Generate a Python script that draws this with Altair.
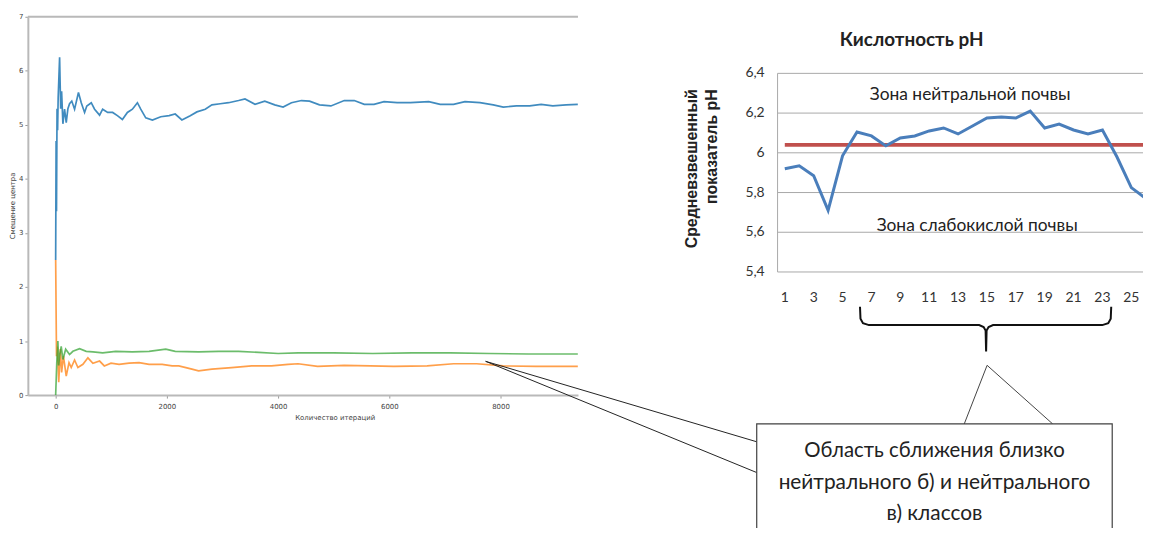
import altair as alt
import pandas as pd

# ---------------- data: left chart (centre displacement vs iterations) ----------------
blue_it = [0, 8, 15, 25, 35, 45, 71, 90, 107, 130, 160, 190, 220, 250, 290, 340, 410, 460, 520,
           560, 640, 700, 790, 845, 935, 1025, 1110, 1200, 1290, 1380, 1470, 1530, 1620, 1740,
           1890, 2040, 2150, 2270, 2420, 2540, 2690, 2810, 2960, 3110, 3290, 3405, 3585, 3760,
           3940, 4090, 4240, 4420, 4565, 4745, 4950, 5190, 5370, 5550, 5725, 5905, 6140, 6380,
           6710, 6915, 7155, 7360, 7630, 7870, 8050, 8285, 8525, 8730, 8940, 9180, 9390]
blue_val = [2.5, 4.7, 3.4, 5.3, 4.9, 5.5, 6.25, 5.3, 5.62, 5.02, 5.29, 5.04, 5.3, 5.39, 5.44,
            5.29, 5.6, 5.41, 5.23, 5.35, 5.41, 5.29, 5.18, 5.29, 5.23, 5.23, 5.17, 5.10, 5.23,
            5.29, 5.41, 5.29, 5.13, 5.09, 5.15, 5.17, 5.20, 5.09, 5.17, 5.24, 5.29, 5.37, 5.39,
            5.41, 5.45, 5.48, 5.38, 5.44, 5.37, 5.33, 5.41, 5.45, 5.44, 5.37, 5.35, 5.45, 5.45,
            5.38, 5.38, 5.43, 5.41, 5.41, 5.43, 5.38, 5.38, 5.43, 5.41, 5.37, 5.33, 5.35, 5.35,
            5.38, 5.35, 5.37, 5.38]

orange_it = [0, 15, 30, 55, 85, 107, 140, 190, 240, 280, 340, 400, 490, 580, 670, 790, 875,
             995, 1140, 1320, 1500, 1680, 1915, 2095, 2215, 2450, 2570, 2810, 3165, 3525, 3880,
             4180, 4360, 4710, 5190, 5660, 6080, 6680, 7155, 7570, 8050, 8640, 9390]
orange_val = [2.5, 0.72, 0.9, 0.24, 0.85, 0.42, 0.72, 0.35, 0.6, 0.51, 0.65, 0.51, 0.57, 0.69,
              0.59, 0.63, 0.54, 0.59, 0.57, 0.59, 0.6, 0.57, 0.57, 0.54, 0.54, 0.48, 0.45, 0.48,
              0.51, 0.54, 0.54, 0.57, 0.58, 0.53, 0.55, 0.54, 0.53, 0.54, 0.58, 0.58, 0.54, 0.53,
              0.53]

green_it = [0, 20, 40, 55, 70, 100, 130, 180, 250, 310, 430, 550, 670, 845, 1080, 1380, 1680,
            1980, 2150, 2570, 2930, 3290, 3650, 4000, 4360, 5000, 5700, 6400, 7100, 7800, 8500,
            9390]
green_val = [0, 0.6, 1.0, 0.55, 0.72, 0.9, 0.66, 0.85, 0.75, 0.81, 0.86, 0.81, 0.80, 0.78, 0.81,
             0.80, 0.81, 0.85, 0.81, 0.80, 0.81, 0.81, 0.79, 0.77, 0.78, 0.78, 0.77, 0.78, 0.78,
             0.77, 0.76, 0.76]

left_xticks = [0, 2000, 4000, 6000, 8000]
left_yticks = [0, 1, 2, 3, 4, 5, 6, 7]
left_xlabel = "Количество итераций"
left_ylabel = "Смещение центра"

# ---------------- data: right chart (pH) ----------------
ph_sample = list(range(1, 27))
ph_value = [5.92, 5.935, 5.885, 5.71, 5.985, 6.105, 6.085, 6.035, 6.075, 6.085, 6.11, 6.125,
            6.095, 6.135, 6.175, 6.18, 6.175, 6.21, 6.125, 6.145, 6.115, 6.095, 6.115, 5.98,
            5.825, 5.77]
ph_mean = 6.04
ph_yticks = [5.4, 5.6, 5.8, 6.0, 6.2, 6.4]
ph_xticks = list(range(1, 26, 2))
ph_title = "Кислотность pH"
ph_ylabel = ["Средневзвешенный", "показатель pH"]
zone_top = "Зона нейтральной почвы"
zone_bottom = "Зона слабокислой почвы"
box_lines = ["Область сближения близко", "нейтрального б)  и нейтрального", "в) классов"]

# ---------------- layout ----------------
W, H = 1143, 520
OFF = 8  # page margin: window coords -> chart coords

blue_df = pd.DataFrame({"it": blue_it, "val": blue_val})
orange_df = pd.DataFrame({"it": orange_it, "val": orange_val})
green_df = pd.DataFrame({"it": green_it, "val": green_val})

lx = alt.Scale(domain=[-500, 9393], range=[28 - OFF, 582 - OFF], nice=False, zero=False)
ly = alt.Scale(domain=[0, 7], range=[396 - OFF, 15 - OFF], nice=False, zero=False)

gray_axis = dict(domainColor="#b9b9b9", domainWidth=2, tickColor="#9a9a9a", tickSize=3,
                 tickWidth=1, labelFont="DejaVu Sans", labelFontSize=7, labelColor="#444",
                 titleFont="DejaVu Sans", titleFontSize=7, titleFontWeight="normal",
                 titleColor="#444", grid=False, labelOverlap=False, labelFlush=False)

x_left = alt.X("it:Q", scale=lx,
               axis=alt.Axis(orient="bottom", offset=(396 - OFF) - H, values=left_xticks,
                             format="d", labelPadding=4, title=left_xlabel,
                             titleX=337 - OFF, titleY=23, titleAlign="center",
                             titleBaseline="middle", **gray_axis))
y_left = alt.Y("val:Q", scale=ly,
               axis=alt.Axis(orient="left", offset=-(28 - OFF), values=left_yticks,
                             labelPadding=2, title=left_ylabel, titleAngle=270,
                             titleX=12.5 - 28, titleY=205 - OFF, titleAlign="center",
                             titleBaseline="middle", **gray_axis))

def left_line(df, color, opacity):
    return alt.Chart(df).mark_line(color=color, strokeWidth=1.7, opacity=opacity).encode(
        x=x_left, y=y_left)

dummy = alt.Data(values=[{"k": 0}])

def seg(x1, y1, x2, y2, color="#222", width=1.0):
    return alt.Chart(dummy).mark_rule(color=color, strokeWidth=width).encode(
        x=alt.value(x1 - OFF), y=alt.value(y1 - OFF), x2=alt.value(x2 - OFF), y2=alt.value(y2 - OFF))

def label(text, x, y, size, weight="normal", font="Lato", angle=0, align="center",
          baseline="middle", color="#222"):
    return alt.Chart(dummy).mark_text(text=text, font=font, fontSize=size, fontWeight=weight,
                                      angle=angle, align=align, baseline=baseline,
                                      color=color).encode(x=alt.value(x - OFF), y=alt.value(y - OFF))

left = alt.layer(
    left_line(blue_df, "#1f77b4", 0.85),
    left_line(orange_df, "#ff7f0e", 0.75),
    left_line(green_df, "#2ca02c", 0.7),
)

# ---------------- right chart ----------------
ph_df = pd.DataFrame({"sample": ph_sample, "ph": ph_value})
grid_df = pd.DataFrame({"g": ph_yticks})
mean_df = pd.DataFrame({"x0": [ph_sample[0]], "x1": [ph_sample[-1]], "m": [ph_mean]})
xtick_df = pd.DataFrame({"s": ph_xticks})

STEP = 14.54
rx = alt.Scale(domain=[0.5, 26.5], range=[783 - OFF, 783 - OFF + 26 * STEP], nice=False, zero=False)
ry = alt.Scale(domain=[5.4, 6.4], range=[272 - OFF, 72 - OFF], nice=False, zero=False)

grid = alt.Chart(grid_df).mark_rule(color="#a8a8a8", strokeWidth=1).encode(
    y=alt.Y("g:Q", scale=ry, axis=None), x=alt.value(783 - OFF), x2=alt.value(1170 - OFF))
ylabels = alt.Chart(grid_df).transform_calculate(
    lbl="replace(format(datum.g, '.1~f'), '.', ',')"
).mark_text(align="right", baseline="middle", font="Lato", fontSize=14, color="#333").encode(
    y=alt.Y("g:Q", scale=ry, axis=None), x=alt.value(770 - OFF), text="lbl:N")
xlabels = alt.Chart(xtick_df).mark_text(align="center", baseline="middle", font="Lato",
                                        fontSize=14, color="#333").encode(
    x=alt.X("s:Q", scale=rx, axis=None), y=alt.value(298 - OFF), text="s:N")
mean_rule = alt.Chart(mean_df).mark_rule(color="#c0504d", strokeWidth=4).encode(
    x=alt.X("x0:Q", scale=rx, axis=None), x2="x1", y=alt.Y("m:Q", scale=ry, axis=None))
ph_line = alt.Chart(ph_df).mark_line(color="#4a7ebb", strokeWidth=3).encode(
    x=alt.X("sample:Q", scale=rx, axis=None), y=alt.Y("ph:Q", scale=ry, axis=None))

right = alt.layer(grid, ylabels, xlabels, mean_rule, ph_line)

# ---------------- annotations ----------------
brace_df = pd.DataFrame({
    "px": [866, 866.5, 869, 875, 986, 990.5, 992.5, 993, 993, 993.5, 995.5, 1000, 1110, 1116, 1118.5, 1119],
    "py": [307, 319, 323.5, 325.5, 325.5, 327.5, 331, 352, 352, 331, 327.5, 325.5, 325.5, 323.5, 319, 307],
})
brace_df["i"] = range(len(brace_df))
brace_df["px"] = brace_df["px"] - OFF
brace_df["py"] = brace_df["py"] - OFF
brace = alt.Chart(brace_df).mark_line(color="#111", strokeWidth=2).encode(
    x=alt.X("px:Q", scale=None), y=alt.Y("py:Q", scale=None), order="i:Q")

box = alt.Chart(dummy).mark_rect(fill="white", stroke="#404040", strokeWidth=1.2).encode(
    x=alt.value(762 - OFF), x2=alt.value(1120 - OFF), y=alt.value(425 - OFF), y2=alt.value(600))

annot = alt.layer(
    seg(28, 15, 582, 15, color="#b9b9b9", width=2),        # top spine of left chart
    seg(783, 72, 783, 272, color="#a8a8a8", width=1),      # left border of pH plot area
    seg(489, 362, 762, 443),
    seg(489, 362, 762, 474),
    seg(994, 366, 971, 425, color="#444"),
    seg(994, 366, 1060, 425, color="#444"),
    brace,
    box,
    label(box_lines[0], 941, 452, 20.5),
    label(box_lines[1], 941, 485, 21),
    label(box_lines[2], 941, 516, 21),
    label(ph_title, 918, 38, 19, weight="bold"),
    label(zone_top, 977, 94, 17.5),
    label(zone_bottom, 984, 226, 17.5),
    label(ph_ylabel[0], 697, 88, 16, weight="bold", font="Liberation Sans", angle=270, align="right"),
    label(ph_ylabel[1], 717, 88, 16, weight="bold", font="Liberation Sans", angle=270, align="right"),
)

chart = alt.layer(left, right, annot).resolve_scale(
    x="independent", y="independent"
).properties(
    width=W, height=H, padding=0, autosize=alt.AutoSizeParams(type="none"), background="white"
).configure_view(stroke=None)

chart.save("out.html", embed_options={"renderer": "svg", "actions": False})
